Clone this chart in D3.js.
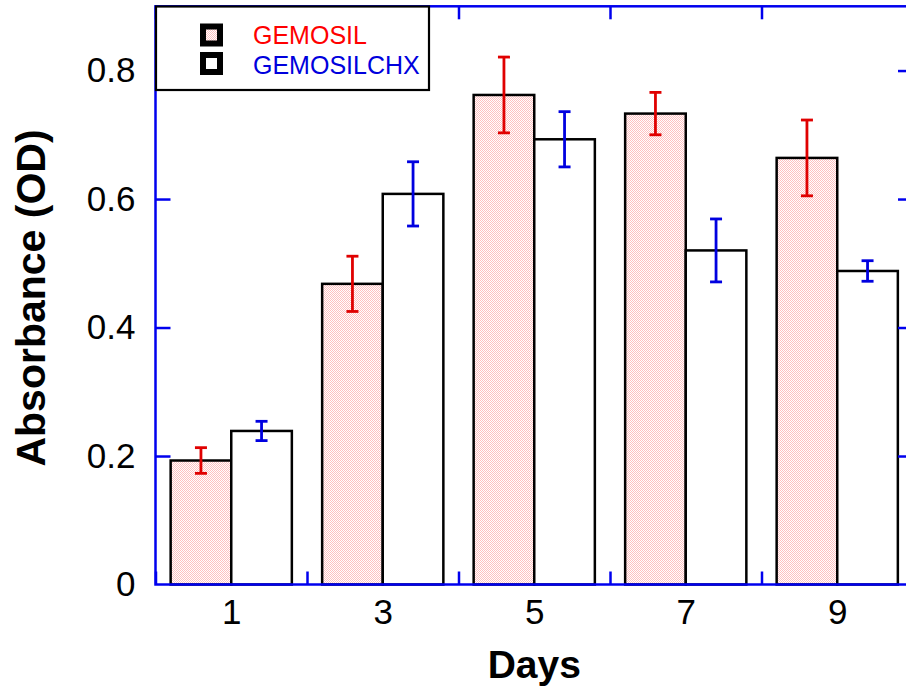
<!DOCTYPE html>
<html>
<head>
<meta charset="utf-8">
<script src="https://cdn.jsdelivr.net/npm/d3@7"></script>
<style>
  body { margin: 0; background: #fff; }
  svg { display: block; font-family: "Liberation Sans", Arial, sans-serif; }
</style>
</head>
<body>
<div id="chart"></div>
<script>
// values
const days = [1, 3, 5, 7, 9];
const gemosil = [0.193, 0.468, 0.762, 0.733, 0.664];
const gemosilErr = [0.020, 0.043, 0.059, 0.033, 0.059];
const gemosilchx = [0.239, 0.608, 0.693, 0.520, 0.488];
const gemosilchxErr = [0.015, 0.050, 0.043, 0.049, 0.016];
const yTicks = [0, 0.2, 0.4, 0.6, 0.8];
const xTicks = [0, 2, 4, 6, 8, 10];
const seriesNames = ["GEMOSIL", "GEMOSILCHX"];

const width = 906, height = 689;
const barW = 0.8;

const svg = d3.select("#chart").append("svg")
    .attr("width", width)
    .attr("height", height);

// fine pink hatch for the first series
const defs = svg.append("defs");
const pat = defs.append("pattern")
    .attr("id", "pink")
    .attr("patternUnits", "userSpaceOnUse")
    .attr("width", 2).attr("height", 2);
pat.append("rect").attr("width", 2).attr("height", 2).attr("fill", "#fff");
pat.append("rect").attr("x", 0).attr("y", 0).attr("width", 1).attr("height", 1).attr("fill", "#ffc0c0");
pat.append("rect").attr("x", 1).attr("y", 1).attr("width", 1).attr("height", 1).attr("fill", "#ffc0c0");

const x = d3.scaleLinear().domain([0, 10]).range([155.5, 913]);
const y = d3.scaleLinear().domain([0, 0.9]).range([584.5, 6.3]);

const rows = days.map((d, i) => ({
    day: d, a: gemosil[i], aErr: gemosilErr[i], b: gemosilchx[i], bErr: gemosilchxErr[i]
}));

// bars
const g = svg.append("g");
g.selectAll(".barA").data(rows).join("rect")
    .attr("x", d => x(d.day - barW))
    .attr("width", d => x(d.day) - x(d.day - barW))
    .attr("y", d => y(d.a))
    .attr("height", d => y(0) - y(d.a))
    .attr("fill", "url(#pink)")
    .attr("stroke", "#000")
    .attr("stroke-width", 2.5);
g.selectAll(".barB").data(rows).join("rect")
    .attr("x", d => x(d.day))
    .attr("width", d => x(d.day + barW) - x(d.day))
    .attr("y", d => y(d.b))
    .attr("height", d => y(0) - y(d.b))
    .attr("fill", "#fff")
    .attr("stroke", "#000")
    .attr("stroke-width", 2.5);

// error bars
const drawErr = (cx, val, err, color) => {
    const e = g.append("g").attr("stroke", color).attr("stroke-width", 2.8);
    e.append("line").attr("x1", cx).attr("x2", cx).attr("y1", y(val + err)).attr("y2", y(val - err));
    e.append("line").attr("x1", cx - 6).attr("x2", cx + 6).attr("y1", y(val + err)).attr("y2", y(val + err));
    e.append("line").attr("x1", cx - 6).attr("x2", cx + 6).attr("y1", y(val - err)).attr("y2", y(val - err));
};
rows.forEach(d => {
    drawErr(x(d.day - barW / 2), d.a, d.aErr, "#e00000");
    drawErr(x(d.day + barW / 2), d.b, d.bErr, "#0000e0");
});

// frame with inward ticks
const axisColor = "#0000ee";
const styleAxis = sel => {
    sel.select(".domain").remove();
    sel.selectAll("line").attr("stroke", axisColor).attr("stroke-width", 2.5);
};
svg.append("g").attr("transform", `translate(${x(0)},0)`)
    .call(d3.axisLeft(y).tickValues(yTicks.slice(1)).tickSize(-15).tickFormat(""))
    .call(styleAxis);
svg.append("g").attr("transform", `translate(${x(10)},0)`)
    .call(d3.axisRight(y).tickValues(yTicks.slice(1)).tickSize(-15).tickFormat(""))
    .call(styleAxis);
svg.append("g").attr("transform", `translate(0,${y(0)})`)
    .call(d3.axisBottom(x).tickValues(xTicks).tickSize(-13).tickFormat(""))
    .call(styleAxis);
svg.append("g").attr("transform", `translate(0,${y(0.9)})`)
    .call(d3.axisTop(x).tickValues(xTicks).tickSize(-13).tickFormat(""))
    .call(styleAxis);
svg.append("rect")
    .attr("x", x(0)).attr("y", y(0.9))
    .attr("width", x(10) - x(0)).attr("height", y(0) - y(0.9))
    .attr("fill", "none").attr("stroke", axisColor).attr("stroke-width", 2.5);

// tick labels
const yLab = svg.append("g").attr("transform", `translate(${x(0)},0)`)
    .call(d3.axisLeft(y).tickValues(yTicks).tickSize(0).tickPadding(20)
        .tickFormat(d => d === 0 ? "0" : d3.format(".1f")(d)));
yLab.select(".domain").remove();
yLab.selectAll("text").attr("font-size", 35).attr("font-family", "Liberation Sans, Arial").attr("fill", "#000");

const xLab = svg.append("g").attr("transform", `translate(0,${y(0)})`)
    .call(d3.axisBottom(x).tickValues(days).tickSize(0).tickPadding(15).tickFormat(d3.format("d")));
xLab.select(".domain").remove();
xLab.selectAll("text").attr("font-size", 35).attr("font-family", "Liberation Sans, Arial").attr("fill", "#000");

// axis titles
svg.append("text")
    .attr("x", x(5)).attr("y", 678)
    .attr("text-anchor", "middle")
    .attr("font-size", 39).attr("font-weight", "bold")
    .text("Days");
svg.append("text")
    .attr("transform", "translate(45,298) rotate(-90)")
    .attr("text-anchor", "middle")
    .attr("font-size", 41).attr("font-weight", "bold")
    .text("Absorbance (OD)");

// legend
const leg = svg.append("g");
leg.append("rect")
    .attr("x", 156).attr("y", 6.5).attr("width", 273).attr("height", 83.5)
    .attr("fill", "#fff").attr("stroke", "#000").attr("stroke-width", 2.2);
const legColors = ["#ff0000", "#0000dd"];
const legFill = ["url(#pink)", "#fff"];
seriesNames.forEach((name, i) => {
    const top = 23.5 + i * 28.5;
    leg.append("rect")
        .attr("x", 203).attr("y", top + 3).attr("width", 17).attr("height", 17)
        .attr("fill", legFill[i]).attr("stroke", "#000").attr("stroke-width", 6);
    leg.append("text")
        .attr("x", 253).attr("y", 44.3 + i * 30)
        .attr("font-size", 25).attr("fill", legColors[i])
        .text(name);
});
</script>
</body>
</html>
